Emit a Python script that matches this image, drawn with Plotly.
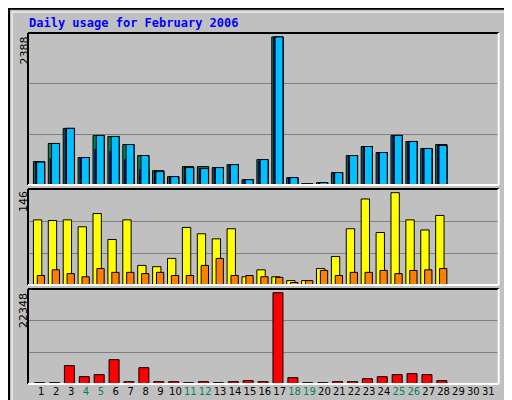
import plotly.graph_objects as go

days = list(range(1, 29))
hits = [378, 670, 913, 443, 800, 783, 653, 475, 232, 135, 297, 297, 281, 329, 86, 410,
        2388, 119, 22, 38, 200, 475, 621, 524, 800, 702, 589, 653]
files = [370, 427, 913, 443, 572, 540, 410, 248, 216, 135, 281, 265, 281, 329, 86, 385,
         2388, 119, 10, 30, 200, 475, 621, 524, 800, 702, 589, 637]
pages = [370, 670, 913, 443, 800, 783, 653, 475, 216, 135, 281, 265, 281, 329, 86, 410,
         2388, 119, 5, 38, 200, 475, 621, 524, 800, 702, 589, 637]
visits = [103, 102, 103, 92, 113, 72, 103, 31, 29, 42, 91, 81, 73, 89, 13, 24,
          13, 7, 7, 26, 45, 89, 136, 83, 146, 103, 87, 110]
sites = [15, 24, 18, 13, 26, 20, 20, 18, 20, 15, 15, 31, 42, 15, 15, 13,
         12, 4, 7, 23, 15, 20, 20, 23, 18, 23, 24, 26]
kbytes = [330, 330, 4490, 1800, 2290, 5960, 570, 4000, 570, 570, 330, 570, 330, 570, 820, 570,
          22348, 1550, 330, 330, 570, 570, 1300, 1800, 2290, 2530, 2290, 820]
tick_days = list(range(1, 32))
weekends = {4, 5, 11, 12, 18, 19, 25, 26}

BG = "#c0c0c0"
fig = go.Figure()


def bars(y, color, offset, width, axis):
    fig.add_trace(go.Bar(x=days, y=y, offset=offset, width=width, yaxis=axis,
                         marker=dict(color=color, line=dict(color="black", width=1))))


bars(hits, "#00805c", -0.53, 0.76, "y3")
bars(files, "#0000ff", -0.40, 0.63, "y3")
bars(pages, "#00c0ff", -0.31, 0.53, "y3")
bars(visits, "#ffff00", -0.53, 0.56, "y2")
bars(sites, "#ff8000", -0.27, 0.49, "y2")
bars(kbytes, "#ff0000", -0.45, 0.67, "y")

ticktext = [("<span style='color:#00805c'>%d</span>" % d) if d in weekends else str(d)
            for d in tick_days]


def yax(top, dom):
    return dict(domain=dom, range=[0, top], tickvals=[top / 3, 2 * top / 3], showticklabels=False,
                gridcolor="#808080", gridwidth=1, zeroline=False, fixedrange=True,
                automargin=False)


X0, X1 = 20 / 512, 490.7 / 512
ymax_top, ymax_mid, ymax_bot = 2452, 151.8, 23250
fig.update_layout(
    width=512, height=400, margin=dict(l=0, r=0, t=0, b=0, pad=0, autoexpand=False),
    paper_bgcolor=BG, plot_bgcolor=BG, showlegend=False, barmode="overlay",
    font=dict(family="DejaVu Sans", size=10, color="black"),
    xaxis=dict(domain=[X0, X1], range=[0.107, 31.7], tickvals=tick_days,
               ticktext=ticktext, showgrid=False, zeroline=False, ticks="", tickangle=0,
               tickfont=dict(size=10), anchor="y", automargin=False),
    yaxis=yax(ymax_bot, [1 - 376 / 400, 1 - 281 / 400]),
    yaxis2=yax(ymax_mid, [1 - 277 / 400, 1 - 181 / 400]),
    yaxis3=yax(ymax_top, [1 - 177 / 400, 1 - 25 / 400]),
)

# panel frames (black top/left, white bottom/right)
for top, bot in [(25, 177), (181, 277), (281, 376)]:
    y0, y1 = 1 - bot / 400, 1 - top / 400
    for xa, ya, xb, yb, c in [(X0, y1, X1, y1, "black"), (X0, y0, X0, y1, "black"),
                              (X0, y0, X1, y0, "white"), (X1, y0, X1, y1, "white")]:
        fig.add_shape(type="line", xref="paper", yref="paper", x0=xa, y0=ya, x1=xb, y1=yb,
                      line=dict(color=c, width=2))

# outer bevel
fig.add_shape(type="rect", xref="paper", yref="paper", x0=0.002, y0=0.002, x1=0.998, y1=0.998,
              line=dict(color="black", width=2))
fig.add_shape(type="rect", xref="paper", yref="paper", x0=4 / 512, y0=4 / 400, x1=1 - 4 / 512,
              y1=1 - 4 / 400, line=dict(color="white", width=1))

mono = "DejaVu Sans Mono"
fig.add_annotation(text="<b>Daily usage for February 2006</b>", xref="paper", yref="paper",
                   x=19 / 512, y=1 - 15 / 400, xanchor="left", yanchor="middle", showarrow=False,
                   font=dict(family=mono, size=12, color="#0000ff"))

for label, ytop in [("2388", 27), ("146", 181), ("22348", 283)]:
    fig.add_annotation(text=label, xref="paper", yref="paper", x=7 / 512, y=1 - ytop / 400,
                       xanchor="left", yanchor="top", textangle=-90, showarrow=False,
                       font=dict(size=11))

legends = [
    ("<span style='color:#00c0ff'>Pages</span> / <span style='color:#0000ff'>Files</span>"
     " / <span style='color:#00805c'>Hits</span>", 28),
    ("<span style='color:#ff8000'>Sites</span> / <span style='color:#e0e000'>Visits</span>", 197),
    ("<span style='color:#ff0000'>KBytes</span>", 340),
]
for txt, ytop in legends:
    fig.add_annotation(text=txt, xref="paper", yref="paper", x=493 / 512, y=1 - ytop / 400,
                       xanchor="left", yanchor="top", textangle=-90, showarrow=False,
                       font=dict(family=mono, size=11, color="black"))

fig.write_html("out.html")
